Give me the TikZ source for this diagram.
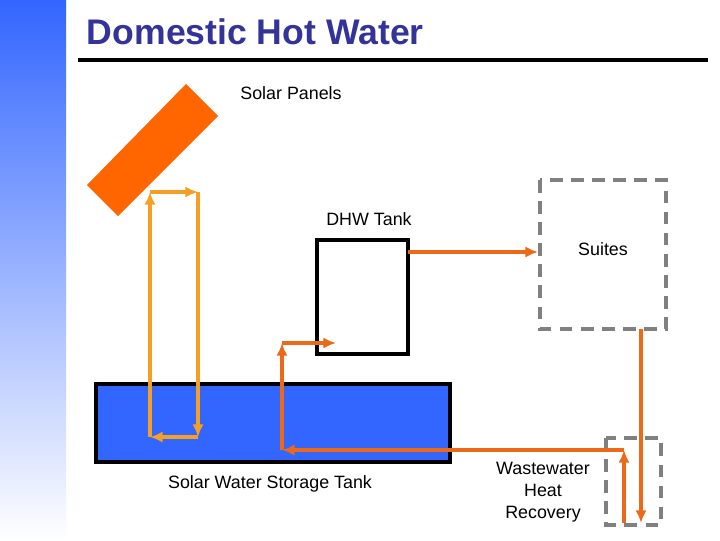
\documentclass[tikz,border=0pt]{standalone}
\usepackage{fontspec}
\setmainfont{Liberation Sans}
\usepackage{tikz}
\usetikzlibrary{arrows.meta,calc}
\definecolor{cTitle}{RGB}{51,51,153}
\definecolor{cPanel}{RGB}{255,102,0}
\definecolor{cTank}{RGB}{51,102,255}
\definecolor{cLoop}{RGB}{245,160,35}
\definecolor{cPipe}{RGB}{235,105,25}
\definecolor{cDash}{RGB}{128,128,128}
\tikzstyle{tsLabel} = [
    text=black,
    font=\fontsize{12.7}{14}\selectfont,
    align=center
]
\tikzstyle{tsLoop} = [
    draw=cLoop,
    line width=2.2pt,
    -{Latex[length=9pt,width=8pt]}
]
\tikzstyle{tsPipe} = [
    draw=cPipe,
    line width=2.2pt,
    -{Latex[length=9pt,width=8pt]}
]
\tikzstyle{tsDashed} = [
    draw=cDash,
    line width=2.5pt,
    dash pattern=on 9pt off 6pt
]

\begin{document}
\begin{tikzpicture}[x=0.025cm, y=-0.025cm]
        \useasboundingbox (0,0) rectangle (720,540);
        
        % side bar and title
        \shade[top color=cTank, bottom color=white] (0,0) rectangle (66,540);
        \node[anchor=west, text=cTitle, font=\fontsize{25.3}{28}\selectfont\bfseries] (title) at (82,32) {Domestic Hot Water};
        \draw[line width=2.2pt] (78,60) -- (708,60);
        
        % equipment
        \fill[cPanel] (87,185) -- (186,84) -- (218,116) -- (118,216) -- cycle;
        \draw[fill=cTank, line width=2.2pt] (96,384) rectangle (450,462);
        \draw[fill=white, line width=2.2pt] (317,240) rectangle (408,354);
        \draw[tsDashed] (540,180) rectangle (666,329);
        \draw[tsDashed] (606,438) rectangle (661,525);
        
        % labels
        \node[tsLabel] (panels) at (291,93) {Solar Panels};
        \node[tsLabel] (dhw) at (369,219) {DHW Tank};
        \node[tsLabel] (suites) at (603,249) {Suites};
        \node[tsLabel] (storage) at (270,484) {Solar Water Storage Tank};
        \node[tsLabel, font=\fontsize{12.7}{15.5}\selectfont] (whr) at (543,492) {Wastewater\\Heat\\Recovery};
        
        % pipe corners
        \coordinate (sBL) at (150,437);
        \coordinate (sTL) at (150,192);
        \coordinate (sTR) at (198,192);
        \coordinate (sBR) at (198,437);
        \coordinate (dOut) at (408,252);
        \coordinate (uIn) at (538,252);
        \coordinate (uOut) at (641,329);
        \coordinate (wBot) at (641,523);
        \coordinate (wIn) at (624,523);
        \coordinate (wTop) at (624,450);
        \coordinate (tBot) at (282,450);
        \coordinate (tTop) at (282,343);
        \coordinate (dIn) at (336,343);
        
        % solar loop
        \draw[tsLoop] (sBL) -- (sTL);
        \draw[tsLoop] (sTL) -- (sTR);
        \draw[tsLoop] (sTR) -- (sBR);
        \draw[tsLoop] (sBR) -- (sBL);
        
        % domestic water
        \draw[tsPipe] (dOut) -- (uIn);
        \draw[tsPipe] (uOut) -- (wBot);
        \draw[tsPipe] (wIn) -- (wTop);
        \draw[tsPipe] (wTop) -- (tBot);
        \draw[tsPipe] (tBot) -- (tTop);
        \draw[tsPipe] (tTop) -- (dIn);
\end{tikzpicture}
\end{document}
